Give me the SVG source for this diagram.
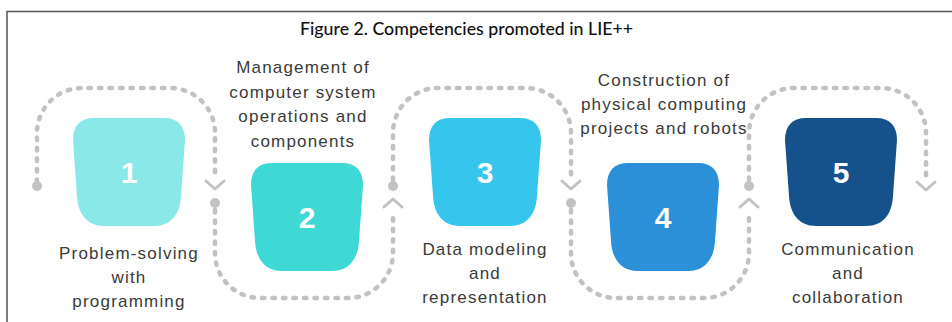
<svg xmlns="http://www.w3.org/2000/svg" width="952" height="322" viewBox="0 0 952 322">
<defs>
<style>
.frame{fill:none;stroke:#555;stroke-width:1.5}
.title{font-family:Lato,"Noto Sans",sans-serif;font-weight:500;font-size:17px;fill:#111}
.lbl{font-family:"Liberation Sans",Arial,sans-serif;font-size:17px;letter-spacing:1.2px;fill:#3a3a3a;text-anchor:middle}
.num{font-family:"Liberation Sans",Arial,sans-serif;font-weight:bold;font-size:30px;fill:#fff;text-anchor:middle}
.dash{fill:none;stroke:#c2c2c2;stroke-width:4.5;stroke-linecap:round;stroke-dasharray:2.5 8}
.chev{fill:none;stroke:#c2c2c2;stroke-width:3;stroke-linecap:round;stroke-linejoin:round}
.dot{fill:#c2c2c2}
</style>
<path id="shape" d="M -35,-54 H 35 C 49,-54 56,-46 56,-32 L 52,24 C 51,42 42,54 25,54 H -25 C -42,54 -51,42 -52,24 L -56,-32 C -56,-46 -49,-54 -35,-54 Z"/>
</defs>
<rect width="952" height="322" fill="#fff"/>
<path class="frame" d="M 7,322 V 11.5 H 952"/>
<text class="title" x="300" y="35" textLength="333" lengthAdjust="spacingAndGlyphs">Figure 2. Competencies promoted in LIE++</text>
<g id="connectors">
<path class="dash" d="M 37,182 V 133 A 45 45 0 0 1 82,88 H 170 A 45 45 0 0 1 215,133 V 176"/>
<circle class="dot" cx="37" cy="186" r="5"/>
<polyline class="chev" points="206,181 215,189 224,181"/>
<circle class="dot" cx="215" cy="203" r="5"/>
<path class="dash" d="M 215,210 V 253 A 45 45 0 0 0 260,298 H 348 A 45 45 0 0 0 393,253 V 214"/>
<polyline class="chev" points="384,207 393,199 402,207"/>
<circle class="dot" cx="393" cy="186" r="5"/>
<path class="dash" d="M 393,180 V 133 A 45 45 0 0 1 438,88 H 526 A 45 45 0 0 1 571,133 V 176"/>
<polyline class="chev" points="562,181 571,189 580,181"/>
<circle class="dot" cx="571" cy="203" r="5"/>
<path class="dash" d="M 571,210 V 253 A 45 45 0 0 0 616,298 H 704 A 45 45 0 0 0 749,253 V 214"/>
<polyline class="chev" points="740,207 749,199 758,207"/>
<circle class="dot" cx="749" cy="186" r="5"/>
<path class="dash" d="M 749,180 V 133 A 45 45 0 0 1 794,88 H 881 A 45 45 0 0 1 926,133 V 176"/>
<polyline class="chev" points="917,182 926,190 935,182"/>
</g>
<g id="node1">
<use href="#shape" x="129" y="172" fill="#8ae8e8"/>
<text class="num" x="129" y="183">1</text>
<text class="lbl" x="129" y="259">Problem-solving</text>
<text class="lbl" x="129" y="283">with</text>
<text class="lbl" x="129" y="307">programming</text>
</g>
<g id="node2">
<use href="#shape" x="307" y="217" fill="#3ed8d5"/>
<text class="num" x="307" y="228">2</text>
<text class="lbl" x="303" y="73">Management of</text>
<text class="lbl" x="303" y="97.5">computer system</text>
<text class="lbl" x="303" y="122">operations and</text>
<text class="lbl" x="303" y="146.5">components</text>
</g>
<g id="node3">
<use href="#shape" x="485" y="172" fill="#35c5ed"/>
<text class="num" x="485" y="183">3</text>
<text class="lbl" x="485" y="255">Data modeling</text>
<text class="lbl" x="485" y="279">and</text>
<text class="lbl" x="485" y="303">representation</text>
</g>
<g id="node4">
<use href="#shape" x="663" y="217" fill="#2b90d8"/>
<text class="num" x="663" y="228">4</text>
<text class="lbl" x="664" y="86">Construction of</text>
<text class="lbl" x="664" y="110">physical computing</text>
<text class="lbl" x="664" y="134">projects and robots</text>
</g>
<g id="node5">
<use href="#shape" x="841" y="172" fill="#15518b"/>
<text class="num" x="841" y="183">5</text>
<text class="lbl" x="848" y="255">Communication</text>
<text class="lbl" x="848" y="279">and</text>
<text class="lbl" x="848" y="303">collaboration</text>
</g>
</svg>
